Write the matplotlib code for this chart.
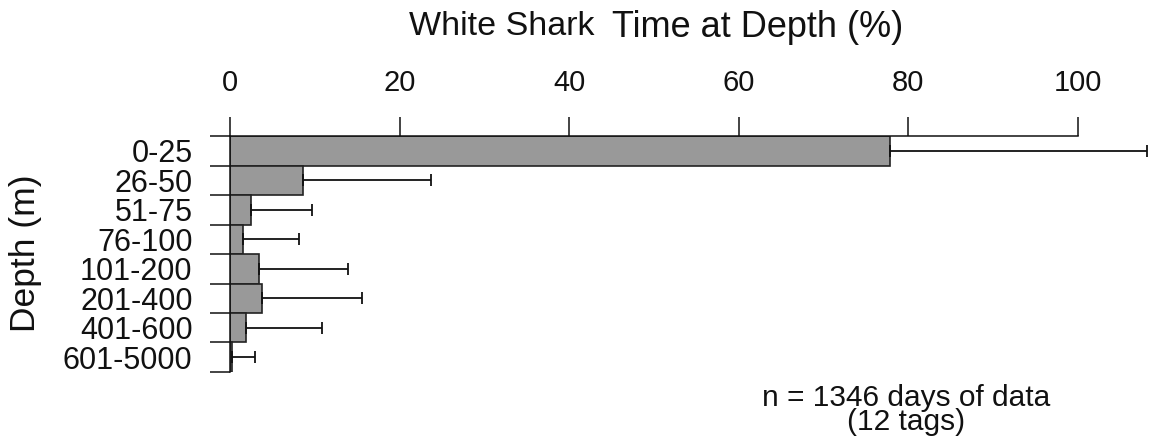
import numpy as np
import matplotlib.pyplot as plt

plt.rcParams['font.family'] = ['Liberation Sans', 'DejaVu Sans']

depth_bins = ['0-25', '26-50', '51-75', '76-100', '101-200', '201-400', '401-600', '601-5000']
time_pct = [77.8, 8.6, 2.5, 1.5, 3.4, 3.8, 1.9, 0.2]
time_sd = [30.3, 15.1, 7.2, 6.6, 10.5, 11.8, 8.9, 2.7]

fig = plt.figure(figsize=(11.49, 4.41), dpi=100)
ax = fig.add_axes([0.2002, 0.1565, 0.738, 0.535])

y = np.arange(len(depth_bins))
ax.barh(y, time_pct, height=1.0, color='#999999', edgecolor='#222222', linewidth=1.2)
ax.errorbar(time_pct, y, xerr=[np.zeros(len(time_sd)), time_sd], fmt='none',
            ecolor='#111111', elinewidth=1.3, capsize=4.5, capthick=1.3, clip_on=False)

ax.set_xlim(0, 100)
ax.set_ylim(len(depth_bins) - 0.5, -0.5)

# x axis along the top
ax.xaxis.tick_top()
ax.set_xticks([0, 20, 40, 60, 80, 100])
ax.tick_params(axis='x', direction='out', length=14, width=1.1, pad=14,
               labelsize=21, colors='#111111')

# y: labels at bar centres, tick marks at bar boundaries
ax.set_yticks(y)
ax.set_yticklabels(depth_bins)
ax.set_yticks(np.arange(len(depth_bins) + 1) - 0.5, minor=True)
ax.tick_params(axis='y', which='major', length=0, pad=27, labelsize=22, colors='#111111')
ax.tick_params(axis='y', which='minor', direction='out', length=14.4, width=1.1, color='#111111')

for side in ['right', 'bottom']:
    ax.spines[side].set_visible(False)
for side in ['top', 'left']:
    ax.spines[side].set_linewidth(1.1)
    ax.spines[side].set_color('#111111')

fig.text(409 / 1149, 0.921, 'White Shark', fontsize=24.5, ha='left', va='baseline', color='#111111')
fig.text(612 / 1149, 0.916, 'Time at Depth (%)', fontsize=26, ha='left', va='baseline',
         color='#111111')

fig.text(0.022, 0.426, 'Depth (m)', fontsize=25.5, rotation=90, ha='center', va='center',
         color='#111111')

fig.text(0.789, 0.070, 'n = 1346 days of data\n(12 tags)', fontsize=21.5, ha='center',
         va='center', linespacing=0.82, color='#111111')

fig.savefig('out.png', dpi=100)
